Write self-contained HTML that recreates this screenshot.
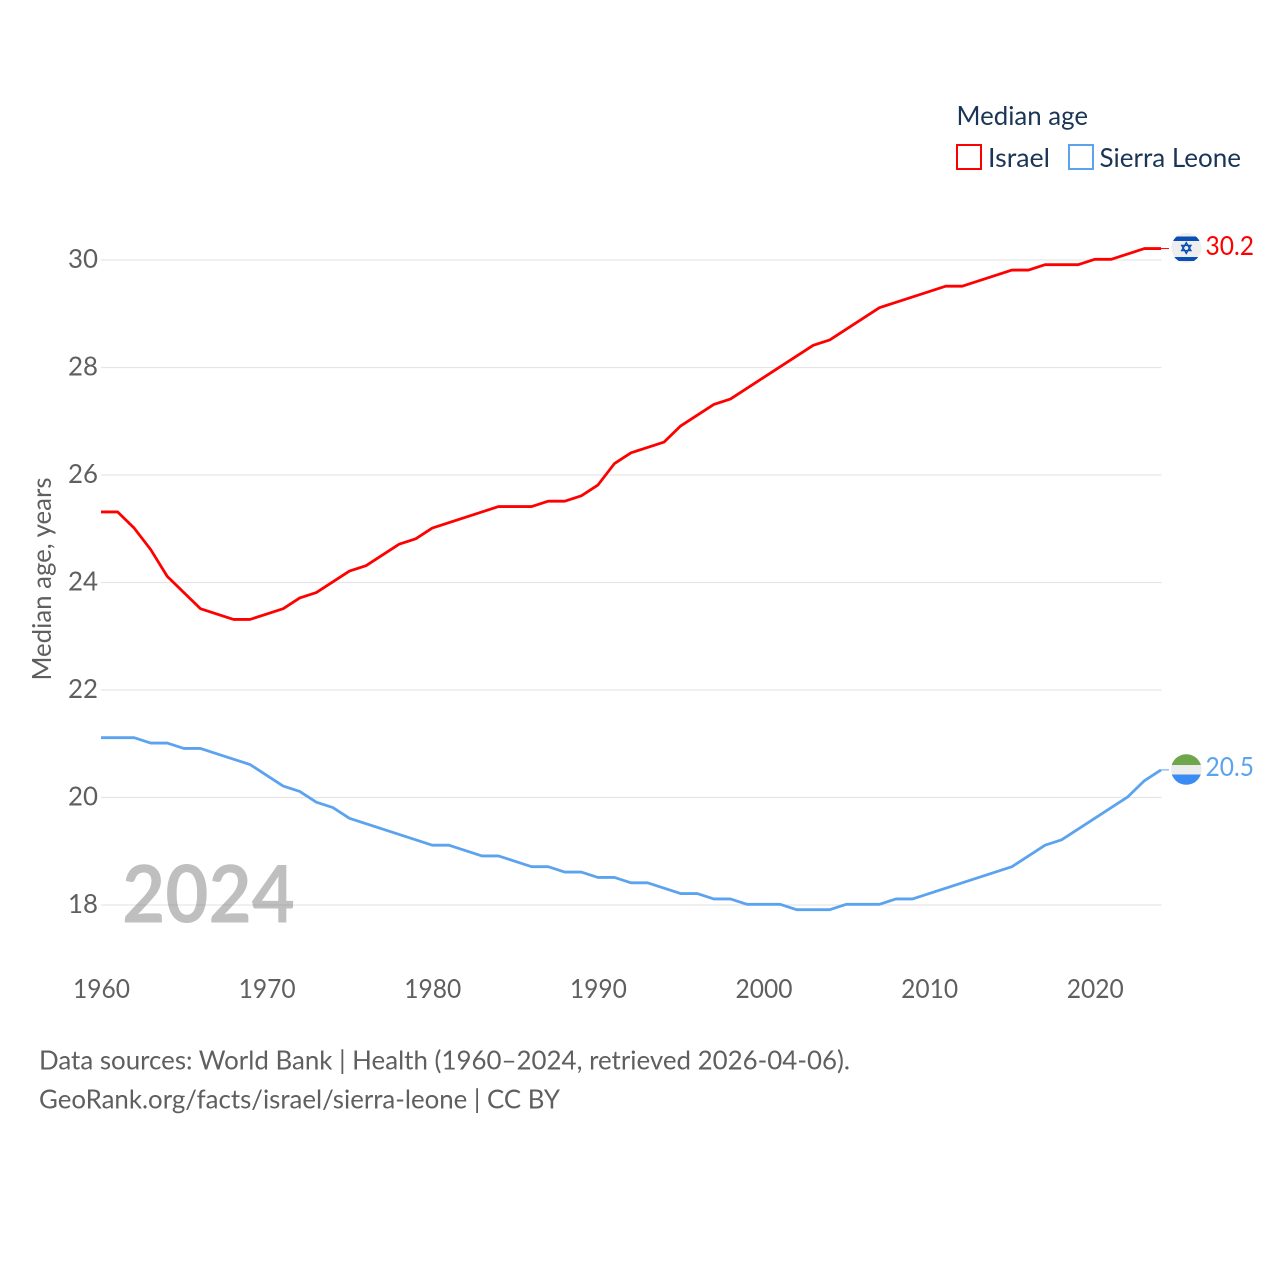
<!DOCTYPE html>
<html lang="en">
<head>
<meta charset="utf-8">
<title>Median age: Israel and Sierra Leone</title>
<style>
html,body{margin:0;padding:0;background:#fff;}
svg{display:block;}
text{font-family:"Lato","Carlito","Liberation Sans",sans-serif;}
</style>
</head>
<body>
<svg id="chart" xmlns="http://www.w3.org/2000/svg" width="1280" height="1280" viewBox="0 0 1280 1280">
  <rect x="0" y="0" width="1280" height="1280" fill="#fff"/>
  <g id="grid"></g>
  <text x="122" y="922.5" font-size="80" font-weight="700" fill="#808080" opacity="0.5" textLength="173" lengthAdjust="spacingAndGlyphs">2024</text>
  <g id="yticks"></g>
  <g id="xticks"></g>
  <text transform="translate(51 680.5) rotate(-90)" font-size="26" fill="#5f5f5f" textLength="203" lengthAdjust="spacingAndGlyphs">Median age, years</text>
  <g id="series"></g>

  <defs>
    <clipPath id="clip-il"><circle cx="1186.3" cy="248" r="15"/></clipPath>
    <clipPath id="clip-sl"><circle cx="1186.3" cy="769.5" r="15.3"/></clipPath>
  </defs>
  <g clip-path="url(#clip-il)">
    <rect x="1170" y="232" width="33" height="33" fill="#eeeeee"/>
    <rect x="1170" y="236.5" width="33" height="4.5" fill="#0a4fb3"/>
    <rect x="1170" y="257" width="33" height="4" fill="#0a4fb3"/>
    <path d="M1186.3 242.6 L1190.9 250.6 L1181.7 250.6 Z M1186.3 253.4 L1181.7 245.4 L1190.9 245.4 Z" fill="none" stroke="#0a4fb3" stroke-width="1.4"/>
  </g>
  <g clip-path="url(#clip-sl)">
    <rect x="1170" y="753" width="33" height="12" fill="#6ea64c"/>
    <rect x="1170" y="765" width="33" height="9.5" fill="#ececec"/>
    <rect x="1170" y="774.5" width="33" height="12" fill="#3a8bf2"/>
  </g>
  <text x="1205.5" y="255" font-size="26" fill="#ff0000" textLength="48.5" lengthAdjust="spacingAndGlyphs">30.2</text>
  <text x="1205.5" y="776" font-size="26" fill="#5ba3ee" textLength="48.5" lengthAdjust="spacingAndGlyphs">20.5</text>

  <g>
    <text x="956.5" y="125" font-size="26" fill="#1a3556" textLength="131.5" lengthAdjust="spacingAndGlyphs">Median age</text>
    <rect x="957" y="145" width="24" height="24" fill="#fff" stroke="#ff0000" stroke-width="2"/>
    <text x="988" y="167" font-size="26" fill="#1a3556" textLength="62" lengthAdjust="spacingAndGlyphs">Israel</text>
    <rect x="1069" y="145" width="24" height="24" fill="#fff" stroke="#5ba3ee" stroke-width="2"/>
    <text x="1099.5" y="167" font-size="26" fill="#1a3556" textLength="141.5" lengthAdjust="spacingAndGlyphs">Sierra Leone</text>
  </g>

  <text x="39" y="1069.5" font-size="26" fill="#5f5f5f" textLength="811" lengthAdjust="spacingAndGlyphs">Data sources: World Bank | Health (1960–2024, retrieved 2026-04-06).</text>
  <text x="39" y="1108.5" font-size="26" fill="#5f5f5f" textLength="521" lengthAdjust="spacingAndGlyphs">GeoRank.org/facts/israel/sierra-leone | CC BY</text>
</svg>
<script>
const years = [1960,1961,1962,1963,1964,1965,1966,1967,1968,1969,1970,1971,1972,1973,1974,1975,1976,1977,1978,1979,1980,1981,1982,1983,1984,1985,1986,1987,1988,1989,1990,1991,1992,1993,1994,1995,1996,1997,1998,1999,2000,2001,2002,2003,2004,2005,2006,2007,2008,2009,2010,2011,2012,2013,2014,2015,2016,2017,2018,2019,2020,2021,2022,2023,2024];
const israelValues = [25.3,25.3,25.0,24.6,24.1,23.8,23.5,23.4,23.3,23.3,23.4,23.5,23.7,23.8,24.0,24.2,24.3,24.5,24.7,24.8,25.0,25.1,25.2,25.3,25.4,25.4,25.4,25.5,25.5,25.6,25.8,26.2,26.4,26.5,26.6,26.9,27.1,27.3,27.4,27.6,27.8,28.0,28.2,28.4,28.5,28.7,28.9,29.1,29.2,29.3,29.4,29.5,29.5,29.6,29.7,29.8,29.8,29.9,29.9,29.9,30.0,30.0,30.1,30.2,30.2];
const sierraLeoneValues = [21.1,21.1,21.1,21.0,21.0,20.9,20.9,20.8,20.7,20.6,20.4,20.2,20.1,19.9,19.8,19.6,19.5,19.4,19.3,19.2,19.1,19.1,19.0,18.9,18.9,18.8,18.7,18.7,18.6,18.6,18.5,18.5,18.4,18.4,18.3,18.2,18.2,18.1,18.1,18.0,18.0,18.0,17.9,17.9,17.9,18.0,18.0,18.0,18.1,18.1,18.2,18.3,18.4,18.5,18.6,18.7,18.9,19.1,19.2,19.4,19.6,19.8,20.0,20.3,20.5];
const yTickValues = [18,20,22,24,26,28,30];
const xTickValues = [1960,1970,1980,1990,2000,2010,2020];

const NS = 'http://www.w3.org/2000/svg';
function xScale(year){ return 101 + (year - 1960) * (1161 - 101) / 64; }
function yScale(v){ return 905 - (v - 18) * (905 - 260) / 12; }
function make(tag, parent){
  const el = document.createElementNS(NS, tag);
  parent.appendChild(el);
  return el;
}

const gridG = document.getElementById('grid');
const yG = document.getElementById('yticks');
yTickValues.forEach(function(v){
  const line = make('line', gridG);
  
  
  line.setAttribute('x1', 101);
  line.setAttribute('x2', 1161.5);
  line.setAttribute('y1', yScale(v));
  line.setAttribute('y2', yScale(v));
  line.setAttribute('stroke', '#e6e6e6');
  line.setAttribute('stroke-width', '1.2');
  const t = make('text', yG);
  
  
  t.setAttribute('x', 68);
  t.setAttribute('y', yScale(v) + 8);
  t.setAttribute('font-size', '26');
  t.setAttribute('fill', '#5f5f5f');
  t.setAttribute('textLength', '30');
  t.setAttribute('lengthAdjust', 'spacingAndGlyphs');
  t.textContent = String(v);
});

const xG = document.getElementById('xticks');
xTickValues.forEach(function(yr){
  const t = make('text', xG);
  
  
  t.setAttribute('x', xScale(yr) - 28);
  t.setAttribute('y', 998);
  t.setAttribute('font-size', '26');
  t.setAttribute('fill', '#5f5f5f');
  t.setAttribute('textLength', '57');
  t.setAttribute('lengthAdjust', 'spacingAndGlyphs');
  t.textContent = String(yr);
});

const seriesG = document.getElementById('series');
function drawSeries(values, color, name){
  const pts = values.map(function(v, i){ return xScale(years[i]).toFixed(2) + ',' + (yScale(v) - 0.7).toFixed(2); });
  const line = make('polyline', seriesG);
  
  
  line.setAttribute('points', pts.join(' '));
  line.setAttribute('fill', 'none');
  line.setAttribute('stroke', color);
  line.setAttribute('stroke-width', '2.8');
  line.setAttribute('stroke-linejoin', 'round');
  const lastY = yScale(values[values.length - 1]) - 0.7;
  const conn = make('line', seriesG);
  
  
  conn.setAttribute('x1', xScale(years[years.length - 1]));
  conn.setAttribute('x2', 1169);
  conn.setAttribute('y1', lastY);
  conn.setAttribute('y2', lastY);
  conn.setAttribute('stroke', color);
  conn.setAttribute('stroke-width', '1');
}
drawSeries(israelValues, '#ff0000', 'israel');
drawSeries(sierraLeoneValues, '#5ba3ee', 'sierra-leone');
</script>
</body>
</html>
